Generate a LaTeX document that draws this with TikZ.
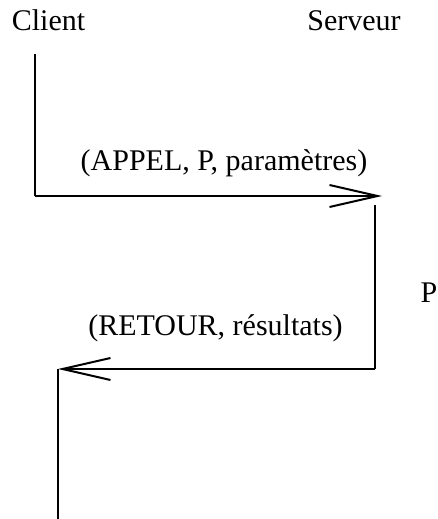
\documentclass[tikz,border=0pt]{standalone}
\usepackage{fontspec}
\setmainfont{Liberation Serif}
\usepackage{tikz}
\usetikzlibrary{arrows.meta}

\tikzset{
  txt/.style={inner sep=0pt, anchor=base, font=\fontsize{30}{36}\selectfont},
  msg/.style={line width=1.6pt, -{Straight Barb[length=48pt, width=22pt, line width=2pt]}},
  life/.style={line width=1.1pt}
}

\begin{document}
\begin{tikzpicture}[x=1pt, y=-1pt]
\useasboundingbox (0,0) rectangle (437,519);

% Drawing names
\node[txt] (client) at (48.5,31) {Client};
\node[txt] (serveur) at (354,31) {Serveur};

% Drawing time lines
\coordinate (c1) at (35,54);
\coordinate (c2) at (35,196);
\coordinate (s1) at (382,196);
\coordinate (s2) at (375,205);
\coordinate (s3) at (375,369);
\coordinate (c3) at (58,369);
\coordinate (c4) at (58,519);

\draw[life] (c1) -- (c2);
\draw[life] (s2) -- (s3);
\draw[life] (c3) -- (c4);

% Drawing messages
\draw[msg] (c2) -- (s1);
\draw[msg] (s3) -- (c3);
\node[txt] (appel) at (224,170) {(APPEL, P, paramètres)};
\node[txt] (retour) at (215.5,335) {(RETOUR, résultats)};
\node[txt] (proc) at (429,302) {P};
\end{tikzpicture}
\end{document}
